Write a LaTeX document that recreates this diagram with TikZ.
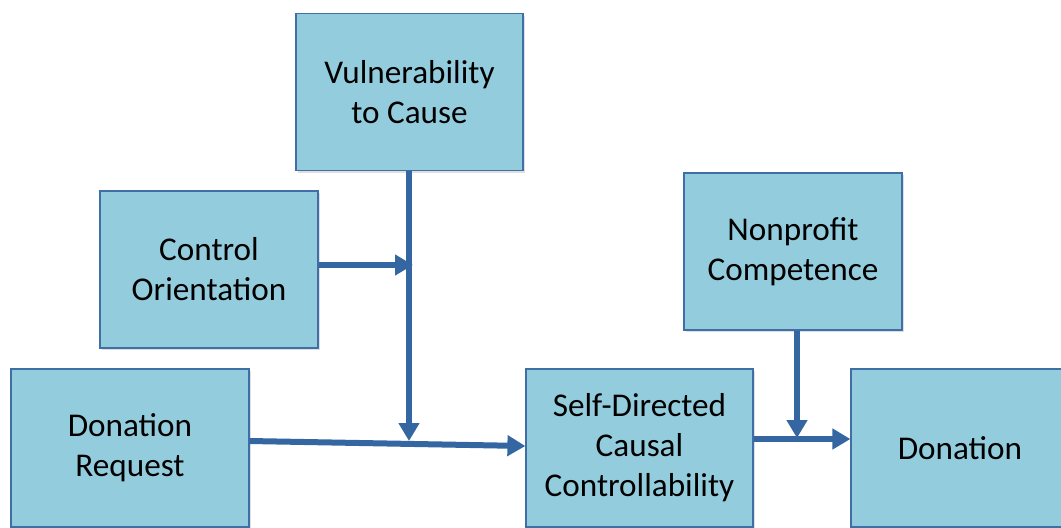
\documentclass[tikz,border=0pt]{standalone}
\usepackage{fontspec}
\setmainfont{Carlito}
\usetikzlibrary{arrows.meta,positioning,calc,shadows}
\definecolor{boxFill}{HTML}{93CDDD}
\definecolor{boxLine}{HTML}{3F6FA6}
\definecolor{arrowBlue}{HTML}{3466A1}

\begin{document}
\begin{tikzpicture}[x=0.5pt,y=-0.5pt,
    construct/.style={rectangle,draw=boxLine,line width=0.6pt,fill=boxFill,
      align=center,inner sep=0pt,font=\fontsize{16.6}{20}\selectfont,
      drop shadow={shadow xshift=1pt,shadow yshift=-1.2pt,opacity=0.25}},
    link/.style={draw=arrowBlue,line width=3pt,-{Triangle[length=9pt,width=10pt]}}]
  \useasboundingbox (0,0) rectangle (1061,527);

  % constructs
  \node[construct,minimum width=113.5pt,minimum height=78.5pt] (vuln) at (409.5,92) {Vulnerability\\to Cause};
  \node[construct,minimum width=109pt,minimum height=78.5pt] (ctrl) at (209,269.5) {Control\\Orientation};
  \node[construct,minimum width=119pt,minimum height=79pt] (req) at (130,448) {Donation\\Request};
  \node[construct,minimum width=113.5pt,minimum height=79pt] (sdcc) at (639.5,448) {Self-Directed\\Causal\\Controllability};
  \node[construct,minimum width=109pt,minimum height=78.5pt] (comp) at (793,251.5) {Nonprofit\\Competence};
  \node[construct,minimum width=109pt,minimum height=79pt] (don) at (960,448) {Donation};

  % moderation points
  \coordinate (m1) at (409,441);
  \coordinate (m2) at (413,265);
  \coordinate (m3) at (797,438);

  % paths
  \draw[link] (req.east |- 0,441) -- (sdcc.west |- 0,446);
  \draw[link] (vuln.south -| m1) -- (m1);
  \draw[link] (ctrl.east |- m2) -- (m2);
  \draw[link] (sdcc.east |- 0,439) -- (don.west |- 0,439);
  \draw[link] (comp.south -| m3) -- (m3);
\end{tikzpicture}
\end{document}
